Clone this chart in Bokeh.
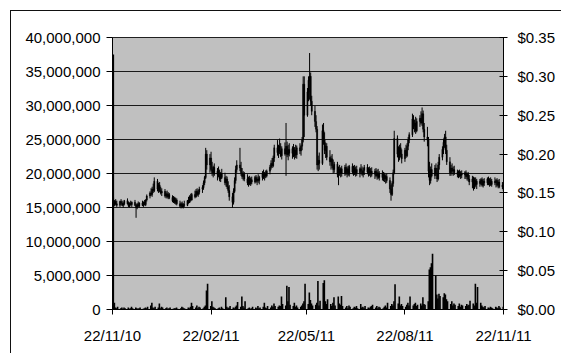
import pandas as pd
from bokeh.plotting import figure
from bokeh.models import (Range1d, LinearAxis, FixedTicker, NumeralTickFormatter,
                          DatetimeTickFormatter, ColumnDataSource, InlineStyleSheet)
from bokeh.embed import file_html
from bokeh.resources import INLINE

# ---- data: one entry per trading day, 22 Nov 2010 .. 22 Nov 2011 ----
# prices in thousandths of a dollar ($0.001), one line per week
open_m = [
    150,138,135,139,136, 134,139,137,134,136, 140,136,133,137,135, 138,134,131,135,133,
    137,134,138,135,141, 146,150,148,155,153, 165,155,160,153,150, 152,146,149,145,148,
    144,140,143,138,141, 136,133,136,132,135, 134,140,138,145,141, 148,145,152,148,151,
    155,157,163,170,200, 186,195,180,176,183, 174,178,172,168,175, 170,163,168,158,153,
    145,138,152,166,180, 186,182,176,171,174, 168,163,169,162,167, 164,170,165,168,166,
    170,175,171,174,172, 178,183,188,185,195, 208,202,210,204,198, 207,200,210,199,206,
    201,207,198,205,199, 208,204,210,218,290, 250,280,295,300,268, 255,242,232,186,192,
    188,230,218,205,210, 196,190,194,185,180, 187,174,180,176,181, 175,183,176,181,174,
    184,177,182,175,180, 176,181,178,174,179, 183,177,180,175,178, 174,178,172,176,170,
    175,170,173,168,171, 166,155,148,162,176, 220,200,195,208,200, 194,205,198,210,218,
    225,245,236,240,230, 242,246,240,252,232, 222,218,178,166,180, 172,182,175,168,186,
    196,206,215,222,205, 190,176,182,178,180, 176,174,177,172,175, 173,176,171,174,168,
    164,168,157,166,161, 165,162,167,160,165, 163,168,162,166,161, 165,163,166,160,164,
    158,160]
high_m = [
    162,144,141,142,140, 140,142,140,138,141, 143,139,138,140,139, 141,136,137,139,138,
    140,139,141,142,148, 152,156,158,162,170, 168,163,164,158,156, 155,152,153,151,150,
    147,146,145,144,143, 140,138,139,137,140, 141,145,147,149,150, 153,155,156,154,158,
    160,166,172,208,205, 200,203,190,185,188, 182,184,180,177,181, 176,172,171,165,160,
    150,156,170,185,192, 208,190,182,178,177, 174,171,172,170,171, 172,173,171,174,172,
    178,180,177,179,180, 186,192,195,198,212, 218,212,220,214,210, 215,240,216,212,214,
    210,213,209,212,211, 214,212,222,300,300, 285,300,330,305,275, 262,250,236,198,202,
    238,240,228,215,214, 205,198,200,193,190, 190,184,186,183,185, 186,188,184,185,186,
    188,185,186,184,185, 183,187,184,182,186, 187,183,184,182,183, 181,182,180,181,178,
    179,177,176,174,175, 170,160,165,180,230, 224,210,212,214,206, 208,212,214,222,228,
    252,250,244,248,246, 250,255,260,256,240, 235,222,190,184,188, 186,188,182,190,200,
    210,220,226,230,212, 196,186,188,184,185, 180,179,180,178,179, 178,179,176,177,173,
    172,171,170,170,168, 168,169,170,168,169, 170,171,169,170,168, 170,168,169,167,168,
    164,162]
low_m = [
    133,132,133,134,132, 132,135,133,131,134, 135,132,131,134,132, 133,118,129,132,131,
    133,132,134,133,139, 143,146,145,150,151, 152,150,151,148,146, 144,143,143,142,142,
    138,137,136,135,134, 131,130,131,130,132, 133,136,137,139,140, 143,144,146,145,148,
    150,154,160,168,180, 176,178,172,170,172, 166,170,165,164,168, 160,158,155,150,140,
    131,135,150,162,176, 178,172,168,166,165, 160,158,160,159,161, 162,163,160,163,161,
    166,168,166,169,170, 174,180,182,183,190, 198,195,200,196,193, 198,172,196,192,197,
    194,196,193,195,194, 200,198,205,215,222, 248,268,270,262,250, 235,228,180,178,180,
    186,212,200,195,192, 185,180,182,175,176, 170,160,172,170,171, 172,173,170,172,171,
    174,172,173,171,172, 170,174,172,170,173, 174,171,172,170,171, 168,170,167,168,166,
    166,165,164,162,163, 150,140,146,158,174, 196,190,192,196,188, 190,195,196,205,214,
    222,232,228,226,228, 235,238,236,228,216, 210,170,160,162,170, 168,172,164,166,180,
    192,200,208,200,186, 172,172,174,172,173, 170,169,170,168,169, 168,168,166,165,160,
    156,153,155,158,155, 158,160,158,157,159, 160,160,158,159,158, 160,157,158,156,156,
    155,150]
close_m = [
    138,135,139,136,134, 139,137,134,136,140, 136,133,137,135,138, 134,131,135,133,137,
    134,138,135,141,146, 150,148,155,153,165, 155,160,153,150,152, 146,149,145,148,144,
    140,143,138,141,136, 133,136,132,135,134, 140,138,145,141,148, 145,152,148,151,155,
    157,163,170,200,186, 195,180,176,183,174, 178,172,168,175,170, 163,168,158,153,145,
    138,152,166,180,186, 182,176,171,174,168, 163,169,162,167,164, 170,165,168,166,170,
    175,171,174,172,178, 183,188,185,195,208, 202,210,204,198,207, 200,210,199,206,201,
    207,198,205,199,208, 204,210,218,290,250, 280,295,300,268,255, 242,232,186,192,188,
    230,218,205,210,196, 190,194,185,180,187, 174,180,176,181,175, 183,176,181,174,184,
    177,182,175,180,176, 181,178,174,179,183, 177,180,175,178,174, 178,172,176,170,175,
    170,173,168,171,166, 155,148,162,176,220, 200,195,208,200,194, 205,198,210,218,225,
    245,236,240,230,242, 246,240,252,232,222, 218,178,166,180,172, 182,175,168,186,196,
    206,215,222,205,190, 176,182,178,180,176, 174,177,172,175,173, 176,171,174,168,164,
    168,157,166,161,165, 162,167,160,165,163, 168,162,166,161,165, 163,166,160,164,158,
    160,153]
# volume in units of 100,000 shares
volume_100k = [
    375,10,3,2,4, 2,3,1,3,2, 3,1,2,4,2, 3,2,1,2,3,
    1,2,3,2,4, 6,10,3,2,4, 3,9,2,4,3, 2,3,1,2,3,
    1,2,2,3,1, 2,4,3,2,1, 3,2,4,10,5, 3,6,2,4,3,
    2,4,6,28,38, 5,12,4,3,2, 2,3,1,4,2, 18,4,2,3,5,
    3,2,4,6,11, 4,19,5,3,12, 2,3,1,2,4, 3,2,5,2,3,
    4,10,3,2,5, 3,6,4,9,5, 4,6,5,19,8, 6,35,12,33,7,
    5,10,4,6,3, 4,6,9,12,38, 8,25,14,9,6, 7,10,42,6,13,
    39,43,12,8,15, 8,5,10,18,6, 19,9,7,20,5, 3,5,2,6,4,
    2,4,3,5,2, 8,3,4,2,5, 3,2,4,5,7, 3,5,2,4,3,
    2,4,6,3,10, 5,8,6,12,37, 9,19,6,8,5, 4,7,10,6,19,
    6,8,10,5,7, 9,6,18,8,7, 12,59,62,68,82, 50,22,16,23,20,
    18,24,22,15,12, 8,12,6,9,7, 5,9,4,7,6, 5,8,6,7,13,
    9,6,38,10,33, 10,6,4,3,5, 3,2,4,3,2, 4,3,2,5,3,
    4,2]

volume_ticks = [0, 5e6, 10e6, 15e6, 20e6, 25e6, 30e6, 35e6, 40e6]
price_ticks = [0, 0.05, 0.10, 0.15, 0.20, 0.25, 0.30, 0.35]
date_ticks = ["2010-11-22", "2011-02-22", "2011-05-22", "2011-08-22", "2011-11-22"]

# ---- build ----
DAY = 86400000
dates = pd.bdate_range("2010-11-22", "2011-11-22")
n = min(len(dates), len(open_m), len(high_m), len(low_m), len(close_m), len(volume_100k))
o = [v / 1000 for v in open_m[:n]]
h = [v / 1000 for v in high_m[:n]]
l = [v / 1000 for v in low_m[:n]]
c = [v / 1000 for v in close_m[:n]]
src = ColumnDataSource(dict(
    x=list(dates[:n]),
    xv=list(dates[:n] + pd.Timedelta(hours=18)),   # columns drawn just right of each date
    o=o, h=h, l=l, c=c,
    top=[max(a, b) for a, b in zip(o, c)],
    bot=[min(a, b) for a, b in zip(o, c)],
    vol=[v * 100000 for v in volume_100k[:n]],
))

x0 = pd.Timestamp(date_ticks[0])
x1 = pd.Timestamp(date_ticks[-1])

FONT = "Liberation Sans"

p = figure(width=561, height=353, x_axis_type="datetime",
           x_range=Range1d(x0, x1), y_range=Range1d(0, 40e6),
           output_backend="svg", toolbar_location=None,
           min_border_left=112, min_border_right=58,
           min_border_top=37, min_border_bottom=44)
p.extra_y_ranges = {"price": Range1d(0, 0.35)}

p.background_fill_color = "#C0C0C0"
p.border_fill_color = "white"
p.outline_line_color = "#202020"
p.xgrid.grid_line_color = None
p.ygrid.grid_line_color = "#1a1a1a"
p.ygrid.grid_line_width = 1
p.ygrid.ticker = FixedTicker(ticks=volume_ticks)

# volume bars
p.vbar(x="xv", top="vol", bottom=0, width=DAY * 1.5, fill_color="black",
       line_color=None, source=src)
# price candles
p.segment(x0="x", y0="l", x1="x", y1="h", line_color="black", line_width=1,
          y_range_name="price", source=src)
p.vbar(x="x", top="top", bottom="bot", width=DAY * 1.2, fill_color="black",
       line_color="black", line_width=0.3, y_range_name="price", source=src)

# left axis (volume)
ya = p.yaxis[0]
ya.ticker = FixedTicker(ticks=volume_ticks)
ya.formatter = NumeralTickFormatter(format="0,0")
ya.major_tick_out = 6
ya.major_tick_in = 0
ya.minor_tick_line_color = None
ya.major_label_standoff = 6

# right axis (price)
ra = LinearAxis(y_range_name="price", ticker=FixedTicker(ticks=price_ticks),
                formatter=NumeralTickFormatter(format="$0.00"))
ra.major_tick_out = 4
ra.major_tick_in = 4
ra.minor_tick_line_color = None
ra.major_label_standoff = 10
p.add_layout(ra, "right")

# x axis
xa = p.xaxis[0]
xa.ticker = FixedTicker(ticks=[pd.Timestamp(d).value // 10**6 for d in date_ticks])
fmt = "%d/%m/%y"
xa.formatter = DatetimeTickFormatter(microseconds=fmt, milliseconds=fmt, seconds=fmt,
                                     minsec=fmt, minutes=fmt, hourmin=fmt, hours=fmt,
                                     days=fmt, months=fmt, years=fmt)
xa.major_tick_out = 5
xa.major_tick_in = 0
xa.minor_tick_line_color = None
xa.major_label_standoff = 12

for ax in (ya, ra, xa):
    ax.major_label_text_font = FONT
    ax.major_label_text_font_size = "15px"
    ax.major_label_text_color = "black"
    ax.axis_line_color = "black"
    ax.major_tick_line_color = "black"

# outer chart-area frame (cropped at right and bottom, as in the original picture)
p.stylesheets = [InlineStyleSheet(css=(
    ":host{overflow:hidden;}"
    ":host::after{content:'';position:absolute;left:10px;top:10px;"
    "right:-10px;bottom:-10px;border-left:1.5px solid #111;"
    "border-top:1.5px solid #111;pointer-events:none;}"))]

open("out.html", "w").write(file_html(p, INLINE))
